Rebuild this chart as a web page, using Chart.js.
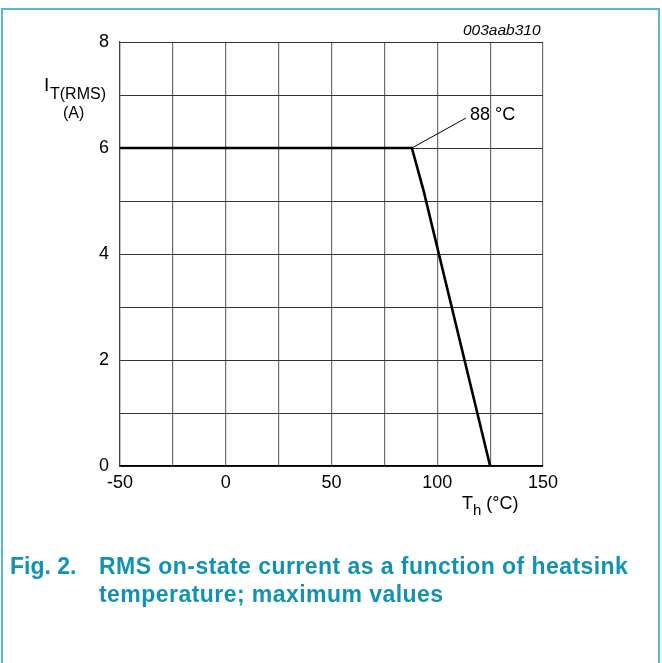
<!DOCTYPE html>
<html>
<head>
<meta charset="utf-8">
<script src="https://cdn.jsdelivr.net/npm/chart.js@4/dist/chart.umd.min.js"></script>
<style>
  html, body { margin:0; padding:0; background:#fff; overflow:hidden; }
  body { width:662px; height:663px; position:relative; font-family:"Liberation Sans", Arial, sans-serif; }
  #frame { position:absolute; left:1px; top:8px; width:655px; height:700px; border:2px solid #5ab6d2; border-bottom:none; }
  #c { position:absolute; left:0; top:0; }
  .t { position:absolute; color:#000; white-space:nowrap; line-height:1; }
  .cap { position:absolute; color:#1192b3; font-weight:bold; font-size:23px; letter-spacing:0.45px; line-height:1; white-space:nowrap; }
</style>
</head>
<body>
<div id="frame"></div>
<canvas id="c" width="662" height="663"></canvas>

<div class="t" style="left:463px; top:22px; font-size:15.5px; font-style:italic;">003aab310</div>
<div class="t" style="left:44px; top:75px; font-size:19px;">I</div>
<div class="t" style="left:50px; top:86px; font-size:16px;">T(RMS)</div>
<div class="t" style="left:63px; top:105px; font-size:16px;">(A)</div>
<div class="t" style="left:470px; top:105px; font-size:18px;">88 °C</div>
<div class="t" style="left:462px; top:494px; font-size:18px;">T<span style="font-size:15px; position:relative; top:6px;">h</span> (°C)</div>

<div class="cap" style="left:10px; top:555px; letter-spacing:0;">Fig. 2.</div>
<div class="cap" style="left:99px; top:555px;">RMS on-state current as a function of heatsink</div>
<div class="cap" style="left:99px; top:583px;">temperature; maximum values</div>

<script>
// curve
const tempValues = [-50, 88, 93.5, 125];
const currentValues = [6, 6, 5.2, 0];

// axis labels
const xLabels = [-50, 0, 50, 100, 150];
const yLabels = [0, 2, 4, 6, 8];

// leader line from the 88 °C knee to its label
const leader = {
    id: 'leader',
    afterDatasetsDraw(chart) {
        const ctx = chart.ctx;
        const x = chart.scales.x.getPixelForValue(88);
        const y = chart.scales.y.getPixelForValue(6);
        ctx.save();
        ctx.strokeStyle = '#000';
        ctx.lineWidth = 1;
        ctx.beginPath();
        ctx.moveTo(x, y);
        ctx.lineTo(466, 118);
        ctx.stroke();
        ctx.restore();
    }
};

const tickFont = { family: '"Liberation Sans", Arial, sans-serif', size: 18 };

new Chart(document.getElementById('c'), {
    type: 'scatter',
    data: {
        datasets: [{
            data: tempValues.map((t, i) => ({ x: t, y: currentValues[i] })),
            showLine: true,
            borderColor: '#000',
            borderWidth: 2.6,
            pointRadius: 0,
            tension: 0
        }]
    },
    options: {
        responsive: false,
        animation: false,
        layout: { padding: { left: 0, top: 42, right: 119, bottom: 157 } },
        plugins: { legend: { display: false }, tooltip: { enabled: false } },
        scales: {
            x: {
                type: 'linear', min: -50, max: 150,
                afterFit: s => { s.height = 40; },
                ticks: {
                    stepSize: 25, padding: 6, color: '#000', font: tickFont,
                    maxRotation: 0, autoSkip: false,
                    callback: v => xLabels.includes(v) ? String(v) : ''
                },
                grid: { color: '#6e6e6e', lineWidth: 1.2, drawTicks: false },
                border: { color: '#000', width: 1.5 }
            },
            y: {
                type: 'linear', min: 0, max: 8,
                afterFit: s => { s.width = 120; },
                ticks: {
                    stepSize: 1, padding: 11, color: '#000', font: tickFont,
                    autoSkip: false,
                    callback: v => yLabels.includes(v) ? String(v) : ''
                },
                grid: { color: '#333', lineWidth: 1, drawTicks: false },
                border: { color: '#444', width: 1.2 }
            }
        }
    },
    plugins: [leader]
});
</script>
</body>
</html>
